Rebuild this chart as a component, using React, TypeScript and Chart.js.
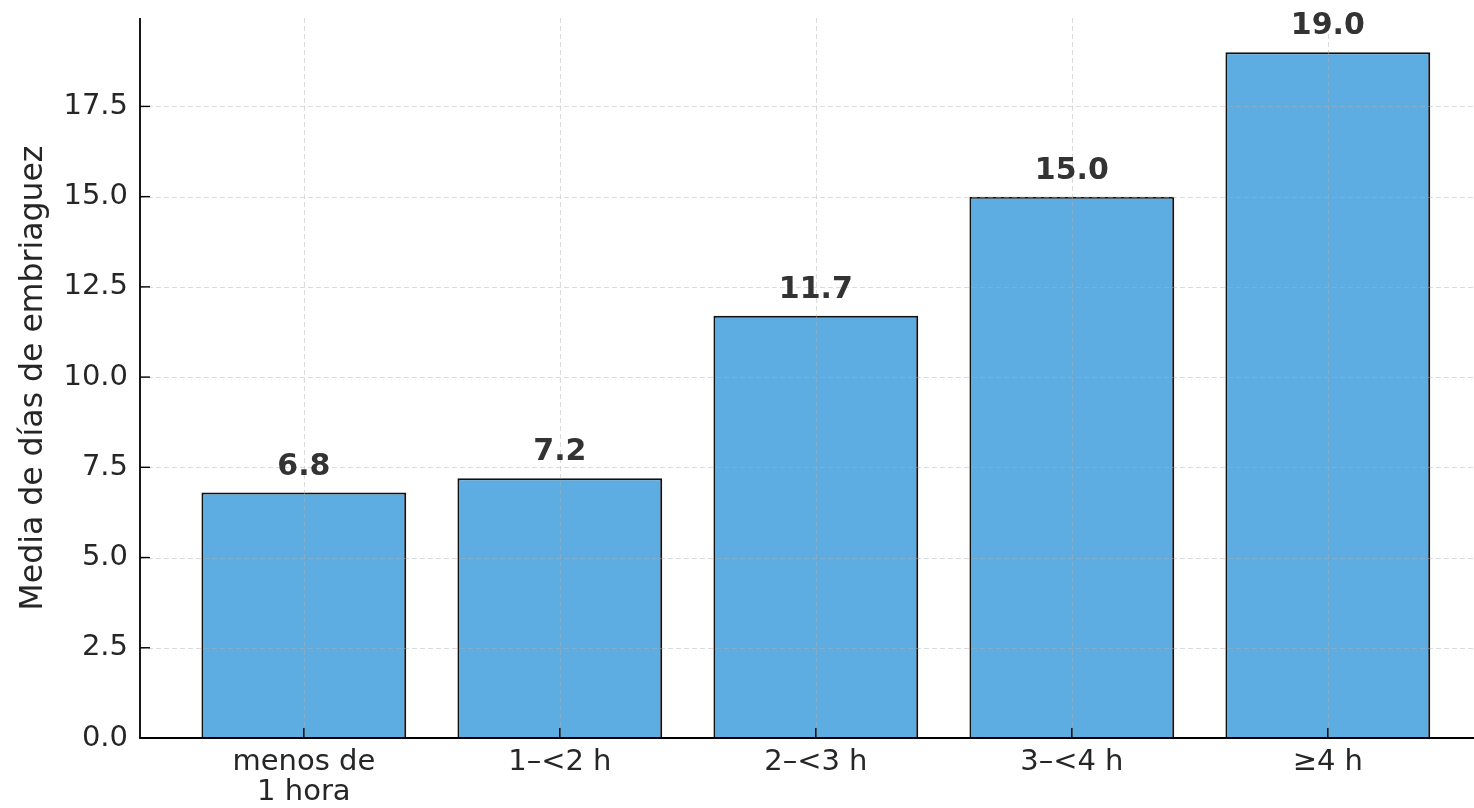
import React, { useEffect, useRef } from "react";
import { Chart, registerables } from "chart.js";

Chart.register(...registerables);

const categories: string[][] = [["menos de", "1 hora"], ["1–<2 h"], ["2–<3 h"], ["3–<4 h"], ["≥4 h"]];
const values: number[] = [6.8, 7.2, 11.7, 15.0, 19.0];
const yTicks: number[] = [0, 2.5, 5, 7.5, 10, 12.5, 15, 17.5];
const yTitle = "Media de días de embriaguez";

const FONT = "'DejaVu Sans', sans-serif";

const overlay = {
  id: "overlay",
  afterDatasetsDraw(chart: any) {
    const { ctx, chartArea, scales } = chart;
    const x = scales.x;
    const y = scales.y;
    ctx.save();
    // grid (drawn faintly over bars)
    ctx.strokeStyle = "rgba(176,176,176,0.45)";
    ctx.lineWidth = 1;
    ctx.setLineDash([5, 3]);
    yTicks.forEach((v) => {
      if (v === 0) return;
      const py = Math.round(y.getPixelForValue(v)) + 0.5;
      ctx.beginPath();
      ctx.moveTo(chartArea.left, py);
      ctx.lineTo(chartArea.right, py);
      ctx.stroke();
    });
    categories.forEach((_, i) => {
      const px = Math.round(x.getPixelForValue(i)) + 0.5;
      ctx.beginPath();
      ctx.moveTo(px, chartArea.top);
      ctx.lineTo(px, chartArea.bottom);
      ctx.stroke();
    });
    ctx.setLineDash([]);
    // spines
    ctx.strokeStyle = "#000";
    ctx.lineWidth = 1.8;
    ctx.beginPath();
    ctx.moveTo(chartArea.left, chartArea.top);
    ctx.lineTo(chartArea.left, chartArea.bottom);
    ctx.lineTo(chartArea.right, chartArea.bottom);
    ctx.stroke();
    // inward ticks
    ctx.lineWidth = 1.4;
    yTicks.forEach((v) => {
      const py = y.getPixelForValue(v);
      ctx.beginPath();
      ctx.moveTo(chartArea.left, py);
      ctx.lineTo(chartArea.left + 10, py);
      ctx.stroke();
    });
    categories.forEach((_, i) => {
      const px = x.getPixelForValue(i);
      ctx.beginPath();
      ctx.moveTo(px, chartArea.bottom);
      ctx.lineTo(px, chartArea.bottom - 10);
      ctx.stroke();
    });
    // value labels
    ctx.fillStyle = "#333333";
    ctx.font = `bold 30px ${FONT}`;
    ctx.textAlign = "center";
    ctx.textBaseline = "alphabetic";
    values.forEach((v, i) => {
      const px = x.getPixelForValue(i);
      const py = y.getPixelForValue(v);
      ctx.fillText(v.toFixed(1), px, py - 18);
    });
    ctx.restore();
  },
};

export default function App() {
  const ref = useRef<HTMLCanvasElement>(null);
  useEffect(() => {
    document.body.style.margin = "0";
    const chart = new Chart(ref.current as HTMLCanvasElement, {
      type: "bar",
      data: {
        datasets: [
          {
            data: values.map((v, i) => ({ x: i, y: v })),
            backgroundColor: "#5DADE2",
            borderColor: "#111111",
            borderWidth: 2,
            barPercentage: 0.8,
            categoryPercentage: 1.0,
          },
        ],
      },
      options: {
        responsive: false,
        animation: false,
        layout: { padding: { top: 18, left: 0, right: 0, bottom: 0 } },
        plugins: { legend: { display: false }, tooltip: { enabled: false } },
        scales: {
          x: {
            type: "linear",
            offset: false,
            min: -0.64,
            max: 4.571,
            afterBuildTicks: (s: any) => {
              s.ticks = categories.map((_, i) => ({ value: i }));
            },
            afterFit: (s: any) => {
              s.height = 70;
              s.paddingLeft = 0;
              s.paddingRight = 0;
            },
            grid: { display: false, drawTicks: false, offset: false },
            border: { display: false },
            ticks: {
              padding: 10,
              maxRotation: 0,
              autoSkip: false,
              color: "#262626",
              font: { family: FONT, size: 29, lineHeight: 1.03 },
              callback: (v: any) => categories[Math.round(v)] ?? "",
            },
          },
          y: {
            type: "linear",
            min: 0,
            max: 19.95,
            afterBuildTicks: (s: any) => {
              s.ticks = yTicks.map((v) => ({ value: v }));
            },
            afterFit: (s: any) => {
              s.width = 140;
              s.paddingTop = 0;
              s.paddingBottom = 0;
            },
            grid: { display: false, drawTicks: false },
            border: { display: false },
            ticks: {
              padding: 12,
              color: "#262626",
              font: { family: FONT, size: 29 },
              callback: (v: any) => Number(v).toFixed(1),
            },
            title: {
              display: true,
              text: yTitle,
              color: "#262626",
              font: { family: FONT, size: 31.5, lineHeight: 1.2 },
              padding: { top: 15, bottom: 0 },
            },
          },
        },
      },
      plugins: [overlay],
    });
    return () => chart.destroy();
  }, []);
  return (
    <div style={{ position: "absolute", left: 0, top: 0, width: 1474, height: 808, background: "#fff" }}>
      <canvas ref={ref} width={1474} height={808} style={{ display: "block" }} />
    </div>
  );
}
